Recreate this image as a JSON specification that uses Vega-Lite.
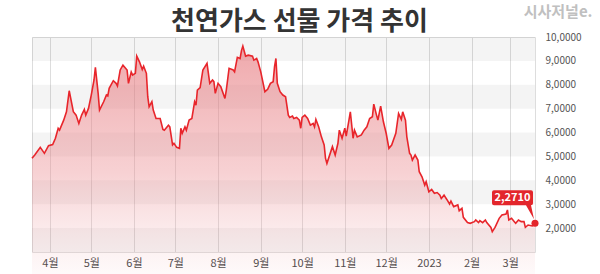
{
  "$schema": "https://vega.github.io/schema/vega-lite/v6.json",
  "width": 503,
  "height": 215,
  "autosize": "none",
  "padding": {"left": 32, "top": 37, "right": 65, "bottom": 22},
  "background": "#ffffff",
  "config": {"view": {"stroke": "#dddddd"}, "font": "Noto Sans CJK KR"},
  "title": {"text": "천연가스 선물 가격 추이", "fontSize": 26, "fontWeight": "bold", "color": "#333333", "anchor": "middle", "frame": "group", "dx": 16, "dy": 35, "offset": 4, "font": "Noto Sans CJK KR"},
  "datasets": {
    "bands": [{"lo": 1, "hi": 2}, {"lo": 3, "hi": 4}, {"lo": 5, "hi": 6}, {"lo": 7, "hi": 8}, {"lo": 9, "hi": 10}],
    "last": [{"date": "2023-03-19", "price": 2.2, "label": "2,2710"}],
    "price": [
      {"date":"2022-03-19","price":4.92},{"date":"2022-03-21","price":5.06},{"date":"2022-03-25","price":5.38},{"date":"2022-03-28","price":5.13},{"date":"2022-03-31","price":5.45},
      {"date":"2022-04-03","price":5.50},{"date":"2022-04-05","price":5.76},{"date":"2022-04-07","price":6.18},{"date":"2022-04-08","price":6.10},{"date":"2022-04-11","price":6.52},
      {"date":"2022-04-13","price":6.87},{"date":"2022-04-15","price":7.75},{"date":"2022-04-18","price":6.87},{"date":"2022-04-20","price":6.73},{"date":"2022-04-22","price":6.38},
      {"date":"2022-04-24","price":6.73},{"date":"2022-04-26","price":6.97},{"date":"2022-04-27","price":6.73},{"date":"2022-04-29","price":7.01},{"date":"2022-05-01","price":7.57},
      {"date":"2022-05-03","price":8.20},{"date":"2022-05-04","price":8.73},{"date":"2022-05-06","price":7.64},{"date":"2022-05-07","price":6.94},{"date":"2022-05-10","price":7.29},
      {"date":"2022-05-12","price":7.57},{"date":"2022-05-13","price":7.53},{"date":"2022-05-14","price":7.85},{"date":"2022-05-17","price":8.17},{"date":"2022-05-19","price":8.06},
      {"date":"2022-05-20","price":7.95},{"date":"2022-05-22","price":8.62},{"date":"2022-05-24","price":8.82},{"date":"2022-05-27","price":8.62},{"date":"2022-05-28","price":8.06},
      {"date":"2022-05-30","price":8.54},{"date":"2022-05-31","price":8.41},{"date":"2022-06-02","price":8.48},{"date":"2022-06-03","price":9.20},{"date":"2022-06-05","price":8.96},
      {"date":"2022-06-07","price":8.64},{"date":"2022-06-08","price":8.78},{"date":"2022-06-10","price":8.48},{"date":"2022-06-11","price":7.50},{"date":"2022-06-12","price":7.08},
      {"date":"2022-06-14","price":7.29},{"date":"2022-06-15","price":6.94},{"date":"2022-06-17","price":6.59},{"date":"2022-06-20","price":6.59},{"date":"2022-06-22","price":6.13},
      {"date":"2022-06-23","price":6.10},{"date":"2022-06-26","price":6.31},{"date":"2022-06-27","price":6.24},{"date":"2022-06-29","price":5.48},{"date":"2022-06-30","price":5.55},
      {"date":"2022-07-02","price":5.38},{"date":"2022-07-04","price":5.34},{"date":"2022-07-05","price":6.18},{"date":"2022-07-06","price":5.97},{"date":"2022-07-08","price":6.24},
      {"date":"2022-07-09","price":6.10},{"date":"2022-07-11","price":6.52},{"date":"2022-07-13","price":6.59},{"date":"2022-07-15","price":7.29},{"date":"2022-07-16","price":7.15},
      {"date":"2022-07-17","price":7.78},{"date":"2022-07-19","price":7.88},{"date":"2022-07-21","price":8.62},{"date":"2022-07-24","price":8.90},{"date":"2022-07-26","price":8.06},
      {"date":"2022-07-28","price":8.20},{"date":"2022-07-29","price":8.13},{"date":"2022-07-30","price":7.64},{"date":"2022-08-01","price":8.06},{"date":"2022-08-03","price":7.92},
      {"date":"2022-08-06","price":7.43},{"date":"2022-08-07","price":7.78},{"date":"2022-08-09","price":8.69},{"date":"2022-08-12","price":8.62},{"date":"2022-08-13","price":8.54},
      {"date":"2022-08-15","price":9.15},{"date":"2022-08-17","price":9.10},{"date":"2022-08-18","price":9.43},{"date":"2022-08-19","price":9.62},{"date":"2022-08-21","price":9.20},
      {"date":"2022-08-23","price":9.24},{"date":"2022-08-26","price":9.20},{"date":"2022-08-27","price":9.03},{"date":"2022-08-29","price":9.10},{"date":"2022-08-30","price":8.96},
      {"date":"2022-09-01","price":8.54},{"date":"2022-09-04","price":7.71},{"date":"2022-09-06","price":7.81},{"date":"2022-09-08","price":8.06},{"date":"2022-09-10","price":8.13},
      {"date":"2022-09-11","price":8.76},{"date":"2022-09-12","price":9.10},{"date":"2022-09-13","price":8.06},{"date":"2022-09-15","price":7.71},{"date":"2022-09-17","price":7.57},
      {"date":"2022-09-19","price":7.50},{"date":"2022-09-21","price":6.73},{"date":"2022-09-22","price":6.63},{"date":"2022-09-24","price":6.69},{"date":"2022-09-25","price":6.59},
      {"date":"2022-09-27","price":6.63},{"date":"2022-09-29","price":6.52},{"date":"2022-09-30","price":6.18},{"date":"2022-10-01","price":6.63},{"date":"2022-10-03","price":6.73},
      {"date":"2022-10-05","price":6.59},{"date":"2022-10-07","price":6.31},{"date":"2022-10-09","price":6.38},{"date":"2022-10-10","price":6.24},{"date":"2022-10-11","price":6.55},
      {"date":"2022-10-13","price":6.24},{"date":"2022-10-15","price":5.82},{"date":"2022-10-17","price":5.48},{"date":"2022-10-18","price":4.92},{"date":"2022-10-19","price":4.71},
      {"date":"2022-10-23","price":5.41},{"date":"2022-10-25","price":5.06},{"date":"2022-10-27","price":5.55},{"date":"2022-10-28","price":6.10},{"date":"2022-10-30","price":5.76},
      {"date":"2022-11-01","price":6.18},{"date":"2022-11-02","price":5.85},{"date":"2022-11-04","price":6.52},{"date":"2022-11-05","price":6.87},{"date":"2022-11-07","price":5.76},
      {"date":"2022-11-08","price":6.10},{"date":"2022-11-10","price":5.82},{"date":"2022-11-13","price":5.90},{"date":"2022-11-15","price":6.10},{"date":"2022-11-17","price":6.24},
      {"date":"2022-11-19","price":6.59},{"date":"2022-11-21","price":6.66},{"date":"2022-11-22","price":7.19},{"date":"2022-11-24","price":6.73},{"date":"2022-11-25","price":6.52},
      {"date":"2022-11-27","price":7.11},{"date":"2022-11-29","price":6.45},{"date":"2022-12-01","price":5.97},{"date":"2022-12-03","price":5.34},{"date":"2022-12-05","price":5.48},
      {"date":"2022-12-08","price":5.97},{"date":"2022-12-10","price":6.80},{"date":"2022-12-12","price":6.55},{"date":"2022-12-13","price":6.87},{"date":"2022-12-15","price":6.52},
      {"date":"2022-12-16","price":5.82},{"date":"2022-12-18","price":5.13},{"date":"2022-12-19","price":5.06},{"date":"2022-12-20","price":4.85},{"date":"2022-12-22","price":5.06},
      {"date":"2022-12-24","price":4.85},{"date":"2022-12-25","price":4.36},{"date":"2022-12-27","price":4.15},{"date":"2022-12-29","price":3.80},{"date":"2022-12-30","price":3.94},
      {"date":"2023-01-01","price":3.52},{"date":"2023-01-03","price":3.62},{"date":"2023-01-05","price":3.46},{"date":"2023-01-07","price":3.49},{"date":"2023-01-09","price":3.38},
      {"date":"2023-01-10","price":3.24},{"date":"2023-01-12","price":3.38},{"date":"2023-01-14","price":3.20},{"date":"2023-01-16","price":3.01},{"date":"2023-01-17","price":3.13},
      {"date":"2023-01-19","price":2.90},{"date":"2023-01-22","price":2.97},{"date":"2023-01-23","price":2.73},{"date":"2023-01-25","price":2.83},{"date":"2023-01-26","price":2.45},
      {"date":"2023-01-29","price":2.23},{"date":"2023-01-31","price":2.20},{"date":"2023-02-03","price":2.27},{"date":"2023-02-04","price":2.34},{"date":"2023-02-06","price":2.23},
      {"date":"2023-02-07","price":2.31},{"date":"2023-02-09","price":2.23},{"date":"2023-02-11","price":2.34},{"date":"2023-02-12","price":2.23},{"date":"2023-02-15","price":2.03},
      {"date":"2023-02-16","price":1.85},{"date":"2023-02-18","price":2.03},{"date":"2023-02-21","price":2.41},{"date":"2023-02-23","price":2.55},{"date":"2023-02-26","price":2.59},
      {"date":"2023-02-27","price":2.76},{"date":"2023-02-28","price":2.34},{"date":"2023-03-02","price":2.41},{"date":"2023-03-04","price":2.27},{"date":"2023-03-05","price":2.20},
      {"date":"2023-03-07","price":2.34},{"date":"2023-03-09","price":2.27},{"date":"2023-03-11","price":2.27},{"date":"2023-03-12","price":2.03},{"date":"2023-03-14","price":2.13},
      {"date":"2023-03-17","price":2.09},{"date":"2023-03-19","price":2.20}
    ]
  },
  "layer": [
    {
      "data": {"name": "bands"},
      "mark": {"type": "rect", "color": "#000000", "opacity": 0.045},
      "encoding": {
        "y": {"field": "hi", "type": "quantitative", "scale": {"domain": [1, 10], "nice": false, "zero": false},
          "axis": {"orient": "right", "tickCount": 9, "tickMinStep": 1, "grid": false, "domain": false, "ticks": false, "labelOverlap": false, "labelBound": false,
            "labelExpr": "datum.value < 1.5 ? '' : replace(format(datum.value, '.4f'), '.', ',')", "labelFontSize": 10, "labelColor": "#555555", "labelPadding": 10,
            "labelFont": "Noto Sans CJK KR",
            "title": "시사저널e.", "titleAngle": 0, "titleAlign": "right", "titleBaseline": "alphabetic", "titleX": 57, "titleY": -21,
            "titleFontSize": 15, "titleFontWeight": "bold", "titleColor": "#c0c0c0", "titleFont": "Noto Sans CJK KR"}},
        "y2": {"field": "lo"}
      }
    },
    {
      "data": {"name": "price"},
      "mark": {"type": "area", "color": {"gradient": "linear", "x1": 0, "y1": 0, "x2": 0, "y2": 1,
        "stops": [{"offset": 0, "color": "rgba(229,115,120,0.62)"}, {"offset": 0.55, "color": "rgba(235,140,145,0.40)"}, {"offset": 1, "color": "rgba(240,170,175,0.06)"}]}},
      "encoding": {
        "x": {"field": "date", "type": "temporal",
          "scale": {"type": "utc", "domain": [{"year": 2022, "month": 3, "date": 19, "utc": true}, {"year": 2023, "month": 3, "date": 19, "utc": true}]},
          "axis": {"title": null, "grid": true, "gridColor": "#dddddd", "domain": false, "ticks": false, "tickCount": {"interval": "month", "step": 1},
            "labelExpr": "utcmonth(datum.value) == 0 ? utcFormat(datum.value, '%Y') : (utcmonth(datum.value) + 1) + '월'",
            "labelFontSize": 11, "labelColor": "#444444", "labelPadding": 5, "labelFont": "Noto Sans CJK KR", "labelOverlap": false, "labelFlush": false}},
        "y": {"field": "price", "type": "quantitative"}
      }
    },
    {
      "data": {"name": "price"},
      "mark": {"type": "line", "color": "#e8252b", "strokeWidth": 1.6},
      "encoding": {
        "x": {"field": "date", "type": "temporal"},
        "y": {"field": "price", "type": "quantitative"}
      }
    },
    {
      "data": {"name": "last"},
      "mark": {"type": "point", "shape": "M-41,-33 H-4 Q-2,-33 -2,-31 V-20 Q-2,-18 -4,-18 L-1,-4 L-9,-18 H-41 Q-43,-18 -43,-20 V-31 Q-43,-33 -41,-33 Z", "size": 4, "filled": true, "color": "#e3262c", "opacity": 1, "strokeWidth": 0},
      "encoding": {
        "x": {"field": "date", "type": "temporal"},
        "y": {"field": "price", "type": "quantitative"}
      }
    },
    {
      "data": {"name": "last"},
      "mark": {"type": "text", "dx": -22.5, "dy": -25.5, "color": "#ffffff", "fontWeight": "bold", "fontSize": 11, "align": "center", "baseline": "middle", "font": "Noto Sans CJK KR"},
      "encoding": {
        "x": {"field": "date", "type": "temporal"},
        "y": {"field": "price", "type": "quantitative"},
        "text": {"field": "label"}
      }
    },
    {
      "data": {"name": "last"},
      "mark": {"type": "circle", "size": 50, "color": "#e3262c", "opacity": 1},
      "encoding": {
        "x": {"field": "date", "type": "temporal"},
        "y": {"field": "price", "type": "quantitative"}
      }
    }
  ]
}
